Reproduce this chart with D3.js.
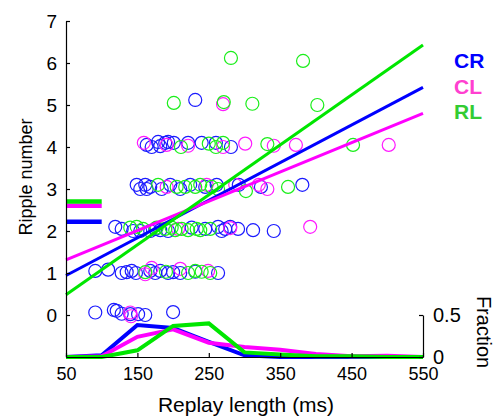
<!DOCTYPE html>
<html>
<head>
<meta charset="utf-8">
<script src="https://cdn.jsdelivr.net/npm/d3@7"></script>
<style>
  body { margin: 0; background: #fff; }
  text { font-family: "Liberation Sans", Arial, sans-serif; fill: #000; }
</style>
</head>
<body>
<div id="chart"></div>
<script>
// replay length (ms), ripple number (with small vertical jitter)
const crPoints = [
  [91,0.06],[117,0.12],[121,0.1],[128,0.03],[140,0.02],[151,0.02],[161,0.0],[200,0.07],
  [91,1.05],[109,1.08],[128,1.0],[135,1.02],[142,1.05],[148,1.0],[168,1.05],[175,1.0],[182,1.05],
  [193,1.0],[200,1.02],[210,1.0],[231,1.03],[263,1.0],
  [119,2.1],[128,2.05],[144,2.0],[154,2.0],[168,2.0],[175,2.05],[182,2.02],[193,2.0],[226,2.08],
  [245,2.05],[263,2.1],[268,2.0],[273,2.05],[280,2.1],[291,2.05],[312,2.02],[341,2.0],
  [149,3.1],[154,3.0],[161,3.1],[163,3.0],[168,3.05],[184,3.0],[196,3.1],[210,3.0],[224,3.1],
  [245,3.05],[261,3.1],[292,3.1],[323,3.05],[381,3.1],
  [163,4.05],[170,4.0],[179,4.12],[182,4.02],[189,4.1],[193,4.12],[201,4.1],[221,4.1],[240,4.1],
  [260,4.1],[281,4.0],
  [231,5.12]
];
const clPoints = [
  [140,0.06],[141,-0.03],
  [161,0.97],[170,1.12],[210,1.1],[249,1.05],
  [207,2.05],[280,2.07],[392,2.1],
  [191,3.05],[247,3.1],[287,3.1],[320,3.1],[332,3.0],
  [159,4.1],[191,4.05],[221,4.03],[270,4.0],[301,4.08],[341,4.03],[372,4.05],[502,4.05],
  [270,5.02]
];
const rlPoints = [
  [161,1.02],[190,1.03],[221,1.0],[231,1.05],[240,1.03],[252,1.0],
  [140,2.08],[149,2.1],[158,2.05],[177,2.08],[189,2.05],[198,2.08],[203,2.02],[212,2.05],
  [221,2.02],[233,2.05],[238,2.02],[252,2.05],
  [179,3.1],[205,3.05],[217,3.05],[231,3.05],[238,3.1],[254,3.05],[263,3.0],[302,2.95],[361,3.05],
  [211,4.0],[250,4.08],[260,4.0],[270,4.1],[332,4.07],[452,4.05],
  [201,5.05],[271,5.07],[311,5.03],[402,5.0],
  [281,6.12],[382,6.05]
];

const groupNames = ['CR', 'CL', 'RL'];
// mean ripple number per group
const groupMeans = [2.22, 2.6, 2.7];
// linear fit values at 50 ms and 550 ms
const fitAt50 = [0.94, 1.31, 0.48];
const fitAt550 = [5.42, 4.80, 6.43];

// replay length distribution (fraction per bin)
const binCenters = [50, 100, 150, 200, 250, 300, 350, 400, 450, 500, 550];
const crFraction = [0, 0.02, 0.38, 0.345, 0.18, 0.02, 0, 0, 0, 0, 0];
const clFraction = [0, 0.01, 0.24, 0.33, 0.17, 0.12, 0.085, 0.035, 0.01, 0.015, 0];
const rlFraction = [0, 0, 0.08, 0.37, 0.4, 0.055, 0.03, 0.01, 0.01, 0, 0];

const xTicks = [50, 150, 250, 350, 450, 550];
const yTicks = [0, 1, 2, 3, 4, 5, 6, 7];
const fracTicks = [0, 0.5];

const lineColors = ['#0000ff', '#ff00ff', '#00e600'];
const dotColors = ['#1a1aff', '#ff1aff', '#1aee1a'];
const legendColors = ['#0000ff', '#ff40d0', '#33cc33'];

const svg = d3.select('#chart').append('svg')
  .attr('width', 497)
  .attr('height', 417);

const x = d3.scaleLinear().domain([50, 550]).range([66, 423]);
const y = d3.scaleLinear().domain([-1, 7]).range([357, 21]);
const yFrac = d3.scaleLinear().domain([0, 0.5]).range([357, 315]);

// scatter
const allPoints = [crPoints, clPoints, rlPoints];
allPoints.forEach((pts, i) => {
  svg.append('g').selectAll('circle')
    .data(pts)
    .enter()
    .append('circle')
    .attr('cx', d => x(d[0]))
    .attr('cy', d => y(d[1]))
    .attr('r', 6.5)
    .attr('fill', 'none')
    .attr('stroke', dotColors[i])
    .attr('stroke-width', 1.2);
});

// fit lines
const fitLine = d3.line().x(d => x(d[0])).y(d => y(d[1]));
groupNames.forEach((g, i) => {
  svg.append('path')
    .attr('d', fitLine([[50, fitAt50[i]], [550, fitAt550[i]]]))
    .attr('fill', 'none')
    .attr('stroke', lineColors[i])
    .attr('stroke-width', 3);
});

// mean markers on the left
groupNames.forEach((g, i) => {
  svg.append('path')
    .attr('d', fitLine([[50, groupMeans[i]], [100, groupMeans[i]]]))
    .attr('stroke', lineColors[i])
    .attr('stroke-width', 4.5);
});

// distributions
const fracLine = d3.line().x(d => x(d[0])).y(d => yFrac(d[1]));
[crFraction, clFraction, rlFraction].forEach((f, i) => {
  svg.append('path')
    .attr('d', fracLine(binCenters.map((b, j) => [b, f[j]])))
    .attr('fill', 'none')
    .attr('stroke', lineColors[i])
    .attr('stroke-width', 4)
    .attr('stroke-linejoin', 'miter');
});

// axes
const yAxis = svg.append('g')
  .attr('transform', 'translate(66,0)')
  .call(d3.axisLeft(y).tickValues(yTicks).tickSizeInner(-4).tickSizeOuter(0).tickPadding(9));
const xAxis = svg.append('g')
  .attr('transform', 'translate(0,357)')
  .call(d3.axisBottom(x).tickValues(xTicks).tickSizeInner(-4).tickSizeOuter(0).tickPadding(10));
const fAxis = svg.append('g')
  .attr('transform', 'translate(423,0)')
  .call(d3.axisRight(yFrac).tickValues(fracTicks).tickFormat(d3.format('')).tickSizeInner(-4).tickSizeOuter(0).tickPadding(10));

[yAxis, xAxis, fAxis].forEach(a => {
  a.select('.domain').attr('stroke', '#000').attr('stroke-width', 1.2);
  a.selectAll('.tick line').attr('stroke', '#000').attr('stroke-width', 1.2);
  a.selectAll('.tick text').attr('font-size', '19px').attr('fill', '#000')
    .style('font-family', '"Liberation Sans", Arial, sans-serif');
});
xAxis.selectAll('.tick text').attr('font-size', '18px');
fAxis.selectAll('.tick text').attr('font-size', '20px');

// axis labels
svg.append('text')
  .attr('transform', 'translate(32,177) rotate(-90)')
  .attr('text-anchor', 'middle')
  .attr('font-size', '18px')
  .text('Ripple number');

svg.append('text')
  .attr('x', 246)
  .attr('y', 412)
  .attr('text-anchor', 'middle')
  .attr('font-size', '21px')
  .text('Replay length (ms)');

svg.append('text')
  .attr('transform', 'translate(477,332) rotate(90)')
  .attr('text-anchor', 'middle')
  .attr('font-size', '20px')
  .text('Fraction');

// legend
groupNames.forEach((g, i) => {
  svg.append('text')
    .attr('x', 454)
    .attr('y', 68 + i * 25.5)
    .attr('font-size', '21px')
    .attr('font-weight', 'bold')
    .attr('fill', legendColors[i])
    .style('fill', legendColors[i])
    .text(g);
});
</script>
</body>
</html>
